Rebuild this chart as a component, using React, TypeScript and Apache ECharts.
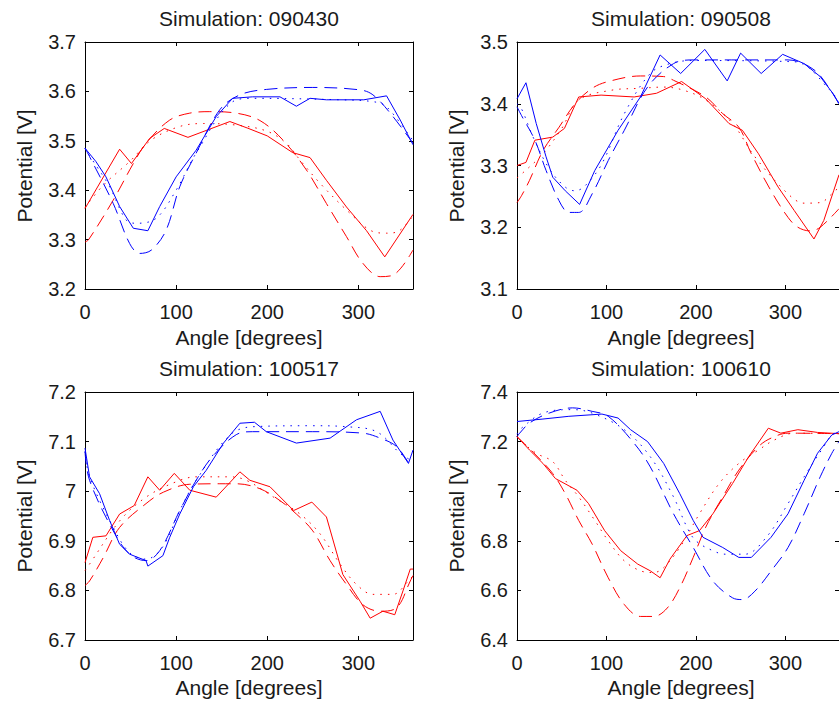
import React, { useEffect, useRef } from "react";
import * as echarts from "echarts";

// ---------- data ----------
const titles = ["Simulation: 090430", "Simulation: 090508", "Simulation: 100517", "Simulation: 100610"];
const xLabel = "Angle [degrees]";
const yLabel = "Potential [V]";
const angleMin = 0;
const angleMax = 360;
const angleStep = 100;
const yMins = [3.2, 3.1, 6.7, 6.4];
const yMaxs = [3.7, 3.5, 7.2, 7.4];
const ySteps = [0.1, 0.1, 0.1, 0.2];

// Simulation 090430
const s1RedSolid = [[0,3.363],[38,3.483],[51,3.454],[71,3.505],[87,3.525],[113,3.507],[159,3.539],[178,3.526],[200,3.51],[228,3.476],[247,3.466],[265,3.42],[287,3.366],[309,3.318],[329,3.265],[360,3.351]];
const s1RedDashed = [[0,3.295],[4,3.30],[31,3.38],[53,3.454],[67,3.495],[93,3.542],[115,3.556],[137,3.559],[166,3.556],[192,3.541],[217,3.502],[243,3.441],[265,3.373],[287,3.306],[305,3.252],[324,3.225],[338,3.228],[360,3.279]];
const s1RedDotted = [[0,3.365],[20,3.41],[49,3.458],[73,3.502],[104,3.529],[130,3.535],[165,3.532],[199,3.52],[221,3.495],[236,3.461],[258,3.414],[287,3.36],[313,3.319],[331,3.313],[345,3.318],[360,3.348]];
const s1BlueSolid = [[0,3.485],[12,3.458],[23,3.427],[38,3.367],[53,3.323],[69,3.318],[82,3.367],[100,3.427],[122,3.481],[144,3.549],[162,3.586],[184,3.589],[214,3.589],[232,3.57],[247,3.586],[265,3.583],[306,3.583],[331,3.591],[346,3.542],[360,3.492]];
const s1BlueDashed = [[0,3.485],[5,3.468],[31,3.373],[49,3.292],[60,3.272],[73,3.279],[89,3.319],[104,3.407],[122,3.475],[148,3.563],[170,3.593],[199,3.604],[250,3.608],[302,3.603],[316,3.593],[335,3.556],[360,3.495]];
const s1BlueDotted = [[0,3.485],[5,3.47],[27,3.407],[45,3.34],[56,3.333],[78,3.343],[100,3.40],[122,3.475],[162,3.579],[184,3.586],[280,3.583],[317,3.579],[331,3.569],[360,3.50]];

// Simulation 090508
const s2RedSolid = [[0,3.30],[10,3.305],[20,3.341],[40,3.346],[53,3.36],[69,3.411],[94,3.414],[131,3.411],[156,3.417],[184,3.436],[211,3.408],[237,3.368],[252,3.357],[270,3.319],[292,3.265],[310,3.227],[332,3.181],[343,3.211],[354,3.259],[360,3.285]];
const s2RedDashed = [[0,3.24],[5,3.251],[14,3.276],[29,3.324],[47,3.362],[65,3.40],[84,3.425],[102,3.436],[138,3.445],[164,3.444],[175,3.438],[211,3.411],[230,3.384],[248,3.362],[262,3.319],[284,3.259],[303,3.216],[314,3.20],[328,3.194],[339,3.20],[360,3.23]];
const s2RedDotted = [[0,3.28],[5,3.286],[29,3.319],[50,3.36],[69,3.406],[106,3.422],[138,3.425],[164,3.427],[186,3.422],[211,3.406],[241,3.368],[266,3.314],[303,3.254],[321,3.239],[339,3.24],[352,3.254],[360,3.265]];
const s2BlueSolid = [[0,3.408],[10,3.434],[21.5,3.368],[32.5,3.314],[40,3.281],[54,3.259],[70,3.237],[87,3.292],[113,3.357],[138,3.411],[160,3.479],[183,3.449],[210,3.488],[235,3.437],[250,3.482],[273,3.449],[297,3.48],[321,3.465],[339,3.444],[352,3.419],[360,3.40]];
const s2BlueDashed = [[0,3.395],[5,3.381],[20,3.341],[32.5,3.292],[47,3.243],[58,3.224],[69,3.224],[84,3.254],[102,3.308],[120,3.357],[146,3.427],[175,3.465],[197,3.471],[248,3.471],[303,3.471],[332,3.455],[352,3.419],[360,3.40]];
const s2BlueDotted = [[0,3.40],[5,3.392],[18,3.346],[36,3.295],[54,3.265],[65,3.259],[76,3.267],[95,3.303],[120,3.384],[149,3.449],[171,3.465],[197,3.47],[310,3.468],[352,3.419],[360,3.40]];

// Simulation 100517
const s3RedSolid = [[0,6.856],[8.6,6.907],[23,6.91],[38,6.954],[54,6.971],[69,7.029],[82,7.002],[98,7.036],[115,7.002],[144,6.988],[170,7.039],[181,7.022],[203,7.009],[229,6.961],[249,6.978],[265,6.948],[283,6.832],[302,6.778],[313,6.744],[327,6.758],[340,6.751],[349,6.799],[357,6.843],[360,6.843]];
const s3RedDashed = [[0,6.81],[5,6.819],[20,6.866],[38,6.927],[67,6.975],[86,6.998],[115,7.014],[148,7.015],[166,7.015],[192,7.005],[214,6.981],[232,6.954],[250,6.92],[269,6.86],[287,6.812],[305,6.771],[324,6.758],[342,6.765],[357,6.819],[360,6.83]];
const s3RedDotted = [[0,6.84],[5,6.853],[38,6.94],[67,6.988],[100,7.019],[122,7.029],[159,7.029],[177,7.022],[207,6.988],[236,6.954],[258,6.914],[280,6.853],[298,6.812],[316,6.792],[338,6.792],[355,6.819],[360,6.83]];
const s3BlueSolid = [[0,7.087],[5,7.029],[16,6.995],[27,6.941],[38,6.893],[49,6.873],[67,6.86],[69,6.849],[85.5,6.87],[93,6.907],[104,6.954],[119,7.009],[133,7.042],[152,7.097],[170,7.137],[186,7.139],[199,7.12],[232,7.097],[269,7.107],[298,7.144],[324,7.161],[338,7.103],[355,7.056],[360,7.083]];
const s3BlueDashed = [[0,7.08],[5,7.022],[31,6.92],[49,6.873],[67,6.86],[82,6.88],[104,6.961],[122,7.022],[140,7.07],[166,7.114],[184,7.12],[250,7.12],[305,7.117],[324,7.107],[342,7.09],[357,7.053],[360,7.05]];
const s3BlueDotted = [[0,7.08],[5,7.029],[31,6.927],[49,6.876],[67,6.863],[85,6.887],[104,6.961],[122,7.022],[159,7.113],[184,7.13],[250,7.132],[287,7.13],[320,7.12],[346,7.076],[357,7.063],[360,7.06]];

// Simulation 100610
const s4RedSolid = [[0,7.22],[14,7.166],[29,7.112],[43,7.051],[67,7.004],[80,6.95],[98,6.841],[116,6.76],[135,6.706],[149,6.679],[160,6.651],[171,6.726],[190,6.821],[204,6.841],[219,6.909],[241,7.031],[259,7.139],[281,7.254],[295,7.234],[314,7.248],[336,7.237],[360,7.232]];
const s4RedDashed = [[0,7.22],[20,7.15],[40,7.071],[54,6.99],[69,6.882],[84,6.787],[102,6.651],[120,6.543],[138,6.495],[153,6.495],[168,6.529],[182,6.611],[197,6.733],[211,6.855],[230,6.977],[248,7.085],[270,7.18],[284,7.214],[303,7.234],[360,7.232]];
const s4RedDotted = [[0,7.22],[3,7.207],[21.5,7.153],[40,7.119],[54,7.044],[69,6.977],[87,6.882],[102,6.80],[120,6.719],[138,6.679],[153,6.672],[164,6.692],[182,6.773],[204,6.909],[226,7.031],[248,7.112],[270,7.166],[288,7.207],[310,7.234],[360,7.232]];
const s4BlueSolid = [[0,7.281],[29,7.291],[58,7.302],[95,7.311],[113,7.295],[127,7.248],[146,7.20],[164,7.112],[182,6.99],[197,6.882],[208,6.814],[230,6.773],[248,6.733],[262,6.733],[284,6.814],[303,6.909],[321,7.044],[336,7.153],[352,7.227],[360,7.24]];
const s4BlueDashed = [[0,7.22],[3,7.234],[14,7.275],[36,7.315],[62,7.336],[84,7.322],[102,7.302],[131,7.193],[149,7.098],[175,6.909],[197,6.773],[219,6.638],[241,6.57],[252,6.563],[266,6.597],[284,6.678],[303,6.773],[321,6.909],[339,7.058],[352,7.153],[360,7.2]];
const s4BlueDotted = [[0,7.23],[5,7.254],[29,7.315],[62,7.329],[84,7.315],[120,7.248],[149,7.139],[175,6.977],[190,6.855],[200,6.80],[219,6.76],[233,6.746],[255,6.746],[280,6.82],[303,6.95],[321,7.058],[343,7.18],[352,7.227],[360,7.24]];

const panels = [
  [s1RedSolid, s1RedDashed, s1RedDotted, s1BlueSolid, s1BlueDashed, s1BlueDotted],
  [s2RedSolid, s2RedDashed, s2RedDotted, s2BlueSolid, s2BlueDashed, s2BlueDotted],
  [s3RedSolid, s3RedDashed, s3RedDotted, s3BlueSolid, s3BlueDashed, s3BlueDotted],
  [s4RedSolid, s4RedDashed, s4RedDotted, s4BlueSolid, s4BlueDashed, s4BlueDotted],
];

// ---------- layout / style ----------
const FONT = "'Liberation Sans', Arial, Helvetica, sans-serif";
const TXT = "#1a1a1a";
const GRIDS = [
  { left: 85, top: 42, width: 328, height: 247 },
  { left: 517, top: 42, width: 329, height: 247 },
  { left: 85, top: 392, width: 328, height: 248 },
  { left: 517, top: 392, width: 329, height: 248 },
];
const lineColors = ["#ff0000", "#ff0000", "#ff0000", "#0000ff", "#0000ff", "#0000ff"];
const lineTypes: any[] = ["solid", [13, 7], [1.5, 6], "solid", [13, 7], [1.5, 6]];

function buildOption() {
  const grid: any[] = [];
  const xAxis: any[] = [];
  const yAxis: any[] = [];
  const series: any[] = [];
  const graphic: any[] = [];
  const axisLine = { show: true, onZero: false, lineStyle: { color: "#000", width: 1 } };
  GRIDS.forEach((g, i) => {
    grid.push({ ...g, containLabel: false, show: false });
    const xBase = {
      type: "value", gridIndex: i, min: angleMin, max: angleMax, interval: angleStep,
      axisLine, splitLine: { show: false },
      axisTick: { show: true, inside: true, length: 4, lineStyle: { color: "#000" } },
    };
    xAxis.push({
      ...xBase, position: "bottom",
      axisLabel: { show: true, margin: 13, fontSize: 20, fontFamily: FONT, color: TXT, showMaxLabel: false },
    });
    xAxis.push({ ...xBase, position: "top", axisLabel: { show: false } });
    const yBase = {
      type: "value", gridIndex: i, min: yMins[i], max: yMaxs[i], interval: ySteps[i],
      axisLine, splitLine: { show: false },
      axisTick: { show: true, inside: true, length: 4, lineStyle: { color: "#000" } },
    };
    yAxis.push({
      ...yBase, position: "left",
      axisLabel: { show: true, margin: 9, fontSize: 20, fontFamily: FONT, color: TXT },
    });
    yAxis.push({ ...yBase, position: "right", axisLabel: { show: false } });

    panels[i].forEach((d, k) => {
      series.push({
        type: "line", xAxisIndex: 2 * i, yAxisIndex: 2 * i, data: d,
        symbol: "none", smooth: k % 3 === 0 ? false : 0.35, clip: true,
        lineStyle: { color: lineColors[k], width: 1, type: lineTypes[k] },
        silent: true,
      });
    });

    const cx = 249 + (i % 2) * 432;
    const rowTop = i < 2 ? 0 : 350;
    graphic.push({
      type: "text", x: cx, y: 18 + rowTop,
      style: { text: titles[i], font: `21px ${FONT}`, fill: TXT, align: "center", verticalAlign: "middle" },
    });
    graphic.push({
      type: "text", x: cx, y: 337 + rowTop,
      style: { text: xLabel, font: `21px ${FONT}`, fill: TXT, align: "center", verticalAlign: "middle" },
    });
    graphic.push({
      type: "text", x: 24 + (i % 2) * 432, y: 166 + rowTop, rotation: Math.PI / 2,
      style: { text: yLabel, font: `21px ${FONT}`, fill: TXT, align: "center", verticalAlign: "middle" },
    });
  });
  return { animation: false, backgroundColor: "#ffffff", grid, xAxis, yAxis, series, graphic };
}

export default function App() {
  const ref = useRef<HTMLDivElement>(null);
  useEffect(() => {
    if (!ref.current) return;
    const chart = echarts.init(ref.current, undefined, { renderer: "svg" });
    chart.setOption(buildOption());
    return () => chart.dispose();
  }, []);
  return (
    <div
      ref={ref}
      style={{ position: "absolute", left: 0, top: 0, width: 839, height: 704, overflow: "hidden", background: "#fff" }}
    />
  );
}
